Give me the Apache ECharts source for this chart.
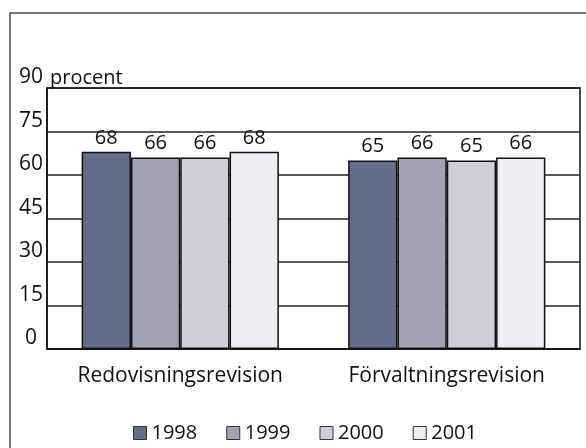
<!DOCTYPE html>
<html>
<head>
<meta charset="utf-8">
<script src="https://cdn.jsdelivr.net/npm/echarts@6/dist/echarts.min.js"></script>
<style>
  html, body { margin: 0; padding: 0; background: #fff; }
  #chart { width: 586px; height: 448px; }
</style>
</head>
<body>
<div id="chart"></div>
<script>
// Revision types on the category axis
var categories = ['Redovisningsrevision', 'Förvaltningsrevision'];
// Share in percent, one array per year
var years = ['1998', '1999', '2000', '2001'];
var values1998 = [68, 65];
var values1999 = [66, 66];
var values2000 = [66, 65];
var values2001 = [68, 66];
// Y axis scale
var yMin = 0, yMax = 90, yStep = 15;

var seriesValues = [values1998, values1999, values2000, values2001];
var fills = ['#636d87', '#a3a2b3', '#cfcfdb', '#eeedf1'];
var font = '"Open Sans", "Noto Sans", sans-serif';
var ink = '#111';

var chart = echarts.init(document.getElementById('chart'), null, { renderer: 'canvas' });

chart.setOption({
  animation: false,
  backgroundColor: '#fff',
  textStyle: { fontFamily: font, color: ink },
  graphic: [{
    type: 'rect',
    shape: { x: 10, y: 13, width: 600, height: 460 },
    style: { fill: 'none', stroke: '#4a4a4a', lineWidth: 1.5 },
    silent: true,
    z: 0
  }],
  grid: {
    left: 47, right: 6, top: 88, bottom: 99,
    show: true, borderColor: ink, borderWidth: 1.5, backgroundColor: 'transparent'
  },
  legend: {
    data: years,
    left: 128, top: 418,
    icon: 'rect',
    itemWidth: 13, itemHeight: 13,
    itemGap: 29,
    textStyle: { fontFamily: font, fontSize: 20, color: ink },
    itemStyle: { borderColor: '#333', borderWidth: 1 }
  },
  xAxis: {
    type: 'category',
    data: categories,
    axisLine: { show: true, lineStyle: { color: ink, width: 1.5 } },
    axisTick: { show: false },
    axisLabel: { interval: 0, hideOverlap: false, fontFamily: font, fontSize: 21, color: ink, margin: 17 }
  },
  yAxis: {
    type: 'value',
    min: yMin, max: yMax, interval: yStep,
    name: 'procent',
    nameLocation: 'end',
    nameGap: 0,
    nameTextStyle: { fontFamily: font, fontSize: 20, color: ink, align: 'left', verticalAlign: 'bottom', padding: [0, 0, 0, 3] },
    axisLine: { show: true, lineStyle: { color: ink, width: 1.5 } },
    axisTick: { show: false },
    splitLine: { show: true, lineStyle: { color: '#222', width: 1.5 } },
    axisLabel: { fontFamily: font, fontSize: 21, color: ink, align: 'center', verticalAlign: 'bottom', margin: 16 }
  },
  series: years.map(function (y, i) {
    return {
      name: y,
      type: 'bar',
      data: seriesValues[i],
      barGap: '0%',
      barCategoryGap: '26%',
      itemStyle: { color: fills[i], borderColor: ink, borderWidth: 1.5 },
      label: { show: true, position: 'top', distance: 4, fontFamily: font, fontSize: 20, color: ink }
    };
  })
});
</script>
</body>
</html>
